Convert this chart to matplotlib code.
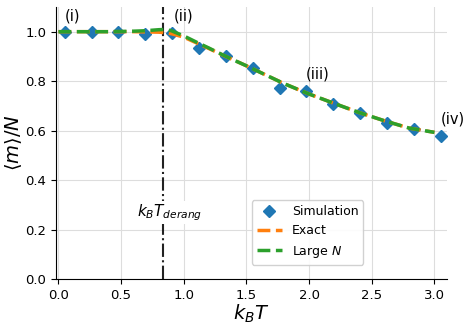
import numpy as np
import matplotlib
matplotlib.use("Agg")
import matplotlib.pyplot as plt

# Simulation data
T_sim = [0.05, 0.264, 0.479, 0.693, 0.907, 1.121, 1.336, 1.55, 1.764, 1.979, 2.193, 2.407, 2.621, 2.836, 3.05]
m_sim = [1.0, 1.0, 0.997, 0.99, 0.995, 0.935, 0.900, 0.853, 0.772, 0.762, 0.708, 0.671, 0.630, 0.606, 0.578]

# Theory curves
T_line = [0.0, 0.2, 0.4, 0.6, 0.7, 0.8, 0.85, 0.9, 1.0, 1.1, 1.2, 1.3, 1.4, 1.5, 1.6, 1.8, 2.0, 2.2, 2.4, 2.6, 2.8, 3.0]
m_exact = [1.0, 1.0, 1.0, 1.0, 0.999, 0.998, 0.996, 0.992, 0.978, 0.955, 0.932, 0.908, 0.885, 0.862, 0.838, 0.790, 0.748, 0.710, 0.673, 0.640, 0.610, 0.593]
m_large = [1.0, 1.0, 1.0, 1.002, 1.004, 1.008, 1.009, 1.004, 0.983, 0.958, 0.934, 0.909, 0.885, 0.862, 0.838, 0.790, 0.748, 0.710, 0.673, 0.640, 0.610, 0.593]

T_derang = 0.838

fig = plt.figure(figsize=(4.7, 3.31), dpi=100)
ax = fig.add_axes([0.119, 0.157, 0.832, 0.822])

ax.plot(T_sim, m_sim, 'D', color='#1f77b4', markersize=6.5, label='Simulation', zorder=3)
ax.plot(T_line, m_exact, '--', color='#ff7f0e', lw=2.5, label='Exact', zorder=4)
ax.plot(T_line, m_large, '--', color='#2ca02c', lw=2.5, label='Large $N$', zorder=5)
ax.axvline(T_derang, color='#222222', ls='-.', lw=1.5, zorder=2)

ax.set_xlim(-0.02, 3.1)
ax.set_ylim(0, 1.1)
ax.set_xticks([0.0, 0.5, 1.0, 1.5, 2.0, 2.5, 3.0])
ax.set_yticks([0.0, 0.2, 0.4, 0.6, 0.8, 1.0])
ax.grid(True, color='#dddddd', lw=0.8)
ax.set_axisbelow(True)
for s in ['top', 'right']:
    ax.spines[s].set_visible(False)
ax.tick_params(labelsize=9.5, length=3.5)

ax.set_xlabel('$k_BT$', fontsize=14, labelpad=1)
ax.set_ylabel(r'$\langle m\rangle/N$', fontsize=14, labelpad=1)

ax.text(0.05, 1.065, '(i)', fontsize=10.5, ha='left', va='center')
ax.text(0.92, 1.063, '(ii)', fontsize=10.5, ha='left', va='center')
ax.text(1.97, 0.828, '(iii)', fontsize=10.5, ha='left', va='center')
ax.text(3.05, 0.648, '(iv)', fontsize=10.5, ha='left', va='center')
ax.text(T_derang + 0.05, 0.27, '$k_BT_{derang}$', fontsize=11, ha='center', va='center',
        bbox=dict(facecolor='white', edgecolor='none', pad=1))

ax.legend(loc='lower left', bbox_to_anchor=(0.485, 0.03), fontsize=9, framealpha=0.9)

fig.savefig('out.png', dpi=100)
